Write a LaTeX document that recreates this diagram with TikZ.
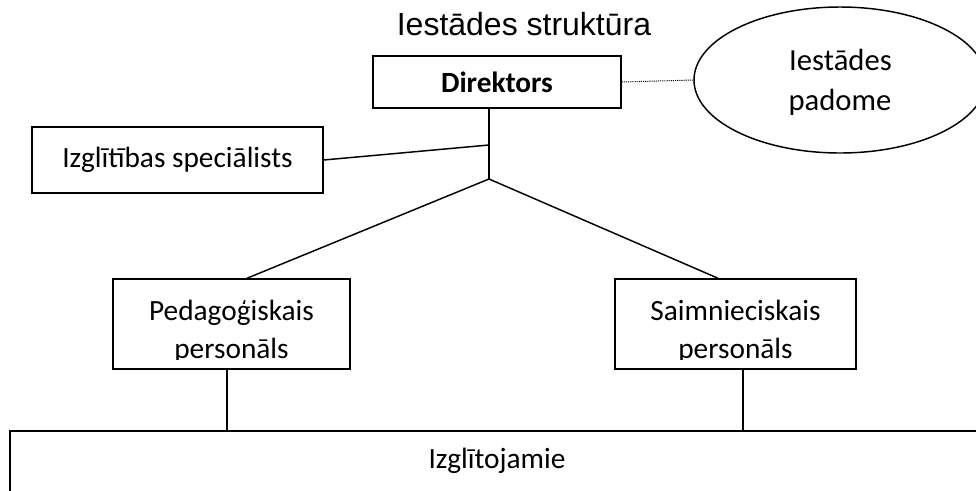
\documentclass[tikz,border=0pt]{standalone}
\usepackage{fontspec}
\setmainfont{Carlito}
\newfontfamily\arialfont{Liberation Sans}
\usetikzlibrary{shapes.geometric}
\begin{document}
\begin{tikzpicture}[x=0.75pt,y=-0.75pt,
  box/.style={draw,line width=1.1pt,rectangle,inner sep=0pt},
  conn/.style={line width=1.1pt},
  lbl/.style={font=\fontsize{22}{30}\selectfont,inner sep=0pt,anchor=base},
  elbl/.style={font=\fontsize{23}{30}\selectfont,inner sep=0pt,anchor=base}]
\useasboundingbox (0,0) rectangle (976,490);
\clip (0,0) rectangle (976,490);
\node[anchor=base,inner sep=0pt,font=\arialfont\fontsize{24}{28}\selectfont] (title) at (524,35) {Iestādes struktūra};
\node[box,minimum width=186pt,minimum height=39pt,font=\fontsize{22}{30}\selectfont\bfseries] (dir) at (497,82) {Direktors};
\node[draw,line width=1.1pt,ellipse,inner sep=0pt,minimum width=219pt,minimum height=109.5pt] (ell) at (840,80) {};
\node[elbl] (ellt1) at (840.5,70) {Iestādes};
\node[elbl] (ellt2) at (840,110) {padome};
\node[box,minimum width=218.25pt,minimum height=49.5pt,font=\fontsize{22}{30}\selectfont] (izgl) at (177.5,160) {Izglītības speciālists};
\begin{scope}
\clip (0,0) rectangle (976,359);
\node[lbl] (pedt1) at (231.5,320) {Pedagoģiskais};
\node[lbl] (pedt2) at (231.5,358) {personāls};
\node[lbl] (sait1) at (735.5,320) {Saimnieciskais};
\node[lbl] (sait2) at (735.5,358) {personāls};
\end{scope}
\node[box,minimum width=177.75pt,minimum height=67.5pt] (ped) at (231.5,324) {};
\node[box,minimum width=180.75pt,minimum height=67.5pt] (sai) at (735.5,324) {};
\node[box,line width=1.5pt,minimum width=730.5pt,minimum height=75pt] (bot) at (497,481) {};
\node[lbl] (bott) at (497,468) {Izglītojamie};
\coordinate (j) at (489,179);
\coordinate (k) at (489,145);
\draw[conn] (dir.south -| j) -- (j);
\draw[conn] (izgl.east) -- (k);
\draw[conn] (j) -- ([xshift=11.6pt]ped.north);
\draw[conn] (j) -- ([xshift=-13.1pt]sai.north);
\draw[conn] ([xshift=-3.4pt]ped.south) -- ([xshift=-3.4pt]ped.south |- bot.north);
\draw[conn] ([xshift=5.6pt]sai.south) -- ([xshift=5.6pt]sai.south |- bot.north);
\draw[line width=0.75pt,dash pattern=on 0.8pt off 0.8pt] (dir.east) -- (ell.west);
\end{tikzpicture}
\end{document}
